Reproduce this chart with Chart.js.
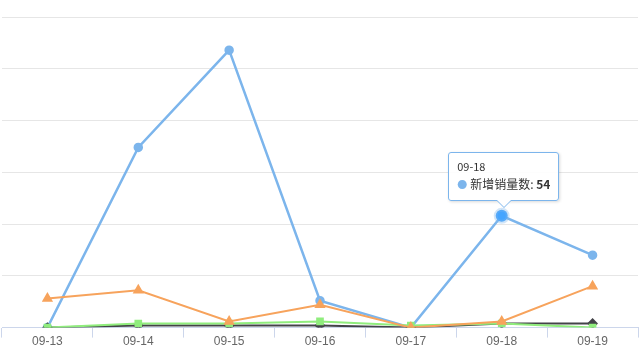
<!DOCTYPE html>
<html>
<head>
<meta charset="utf-8">
<script src="https://cdn.jsdelivr.net/npm/chart.js@4/dist/chart.umd.min.js"></script>
<style>
    html, body { margin: 0; padding: 0; background: #fff; }
    #wrap { position: relative; width: 640px; height: 360px; }
    #tip {
        position: absolute; display: none; pointer-events: none;
        background: rgba(255,255,255,0.92); border: 1px solid #7cb5ec; border-radius: 3px;
        box-shadow: 1px 1px 3px rgba(0,0,0,0.15);
        font-family: "Noto Sans CJK SC", "Noto Sans", sans-serif; color: #333;
        padding: 6px 8px 6px 8px; white-space: nowrap;
    }
    #tip .t { font-size: 11px; line-height: 15px; }
    #tip .b { font-size: 12px; line-height: 19px; }
    #tip .dot { color: #7cb5ec; font-size: 10px; margin-right: 3px; }
    #tip:after, #tip:before {
        content: ""; position: absolute; left: 50%; border: solid transparent;
    }
    #tip:before { top: 100%; margin-left: -8px; border-width: 8px; border-top-color: #7cb5ec; }
    #tip:after { top: 100%; margin-left: -7px; border-width: 7px; border-top-color: #fff; }
</style>
</head>
<body>
<div id="wrap">
    <canvas id="c" width="640" height="360"></canvas>
    <div id="tip"></div>
</div>
<script>
const labels = ["09-13", "09-14", "09-15", "09-16", "09-17", "09-18", "09-19"];
const newSales = [0, 87, 134, 13, 0, 54, 35];
const series2 = [0, 1, 1, 1, 0, 2, 2];
const series3 = [0, 2, 2, 3, 1, 2, 0];
const series4 = [14, 18, 3, 11, 0, 3, 20];
const yTicks = [0, 25, 50, 75, 100, 125, 150];

function tipHandler(ctx) {
    const tt = ctx.tooltip;
    const el = document.getElementById("tip");
    if (tt.opacity === 0 || !tt.dataPoints || !tt.dataPoints.length) {
        el.style.display = "none";
        return;
    }
    const dp = tt.dataPoints[0];
    el.innerHTML = '<div class="t">' + dp.label + '</div>' +
        '<div class="b"><span class="dot">\u25CF</span>' + dp.dataset.label +
        ': <b>' + dp.raw + '</b></div>';
    el.style.display = "block";
    const w = el.offsetWidth, h = el.offsetHeight;
    el.style.left = (tt.caretX - w / 2 + 2) + "px";
    el.style.top = (tt.caretY - h - 15) + "px";
}

const chart = new Chart(document.getElementById("c"), {
    type: "line",
    data: {
        labels: labels,
        datasets: [
            { label: "新增销量数", data: newSales, borderColor: "#7cb5ec", backgroundColor: "#7cb5ec",
              borderWidth: 2.5, pointStyle: "circle", pointRadius: 3.5, pointHoverRadius: 6,
              pointHoverBorderColor: "rgba(124,181,236,0.35)", pointHoverBorderWidth: 4, order: 4 },
            { label: "系列2", data: series2, borderColor: "#434348", backgroundColor: "#434348",
              borderWidth: 2, pointStyle: "rectRot", pointRadius: 4, order: 3 },
            { label: "系列3", data: series3, borderColor: "#90ed7d", backgroundColor: "#90ed7d",
              borderWidth: 2, pointStyle: "rect", pointRadius: 4, order: 2 },
            { label: "系列4", data: series4, borderColor: "#f7a35c", backgroundColor: "#f7a35c",
              borderWidth: 2, pointStyle: "triangle", pointRadius: 4.5, order: 1 }
        ]
    },
    options: {
        responsive: false,
        animation: false,
        events: [],
        layout: { autoPadding: false, padding: { top: 17, left: 2, right: 2, bottom: 14 } },
        elements: { line: { tension: 0 } },
        plugins: {
            legend: { display: false },
            tooltip: { enabled: false, external: tipHandler, mode: "nearest", intersect: false }
        },
        scales: {
            x: {
                offset: true,
                grid: { offset: true, drawOnChartArea: false, tickLength: 10, color: "#ccd6eb" },
                border: { color: "#ccd6eb" },
                ticks: { color: "#666", padding: -3, font: { family: "Liberation Sans, Arial", size: 12 } }
            },
            y: {
                min: 0, max: 150,
                afterBuildTicks: (axis) => { axis.ticks = yTicks.map(v => ({ value: v })); },
                afterFit: (axis) => { axis.width = 0; },
                ticks: { display: false },
                border: { display: false },
                grid: { color: "#e6e6e6", drawTicks: false }
            }
        }
    }
});

const act = [{ datasetIndex: 0, index: 5 }];
chart.setActiveElements(act);
chart.tooltip.setActiveElements(act, { x: 0, y: 0 });
chart.update();
</script>
</body>
</html>
